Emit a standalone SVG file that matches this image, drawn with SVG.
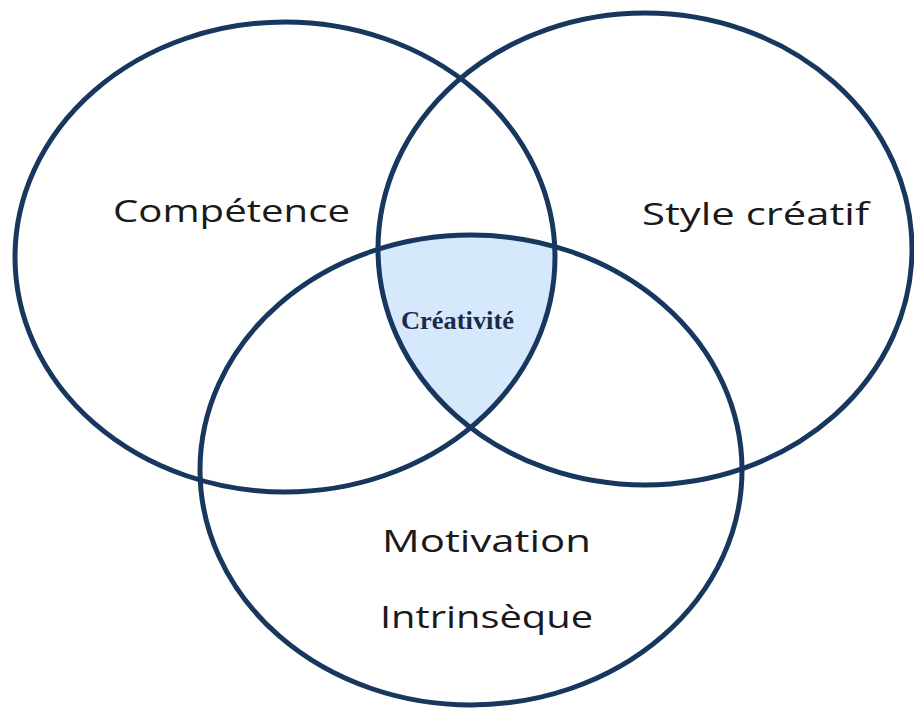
<svg xmlns="http://www.w3.org/2000/svg" width="914" height="709" viewBox="0 0 914 709">
  <style>
    .ring { fill: none; stroke: #17375e; stroke-width: 5; }
    .lbl { font-family: "Open Sans", "DejaVu Sans", sans-serif; font-size: 31px; fill: #1a1a1a; }
    .core { font-family: "Liberation Serif", serif; font-weight: bold; font-size: 25px; fill: #1b2a49; }
  </style>
  <defs>
    <clipPath id="clipL"><ellipse cx="285" cy="257" rx="270" ry="235"/></clipPath>
    <clipPath id="clipR" clip-path="url(#clipL)"><ellipse cx="645" cy="249" rx="267" ry="236"/></clipPath>
  </defs>
  <rect width="914" height="709" fill="#ffffff"/>
  <g id="creativite">
    <ellipse cx="471" cy="470" rx="271" ry="235" fill="#d5e8fc" clip-path="url(#clipR)"/>
    <text class="core" x="401" y="329" textLength="113" lengthAdjust="spacingAndGlyphs">Créativité</text>
  </g>
  <g id="connectors"></g>
  <g id="competence">
    <ellipse class="ring" cx="285" cy="257" rx="270" ry="235"/>
    <text class="lbl" x="113" y="222" textLength="237" lengthAdjust="spacingAndGlyphs">Compétence</text>
  </g>
  <g id="style-creatif">
    <ellipse class="ring" cx="645" cy="249" rx="267" ry="236"/>
    <text class="lbl" x="642" y="225" textLength="227" lengthAdjust="spacingAndGlyphs">Style créatif</text>
  </g>
  <g id="motivation">
    <ellipse class="ring" cx="471" cy="470" rx="271" ry="235"/>
    <text class="lbl" x="382" y="552" textLength="209" lengthAdjust="spacingAndGlyphs">Motivation</text>
    <text class="lbl" x="380" y="628" textLength="213" lengthAdjust="spacingAndGlyphs">Intrinsèque</text>
  </g>
</svg>
